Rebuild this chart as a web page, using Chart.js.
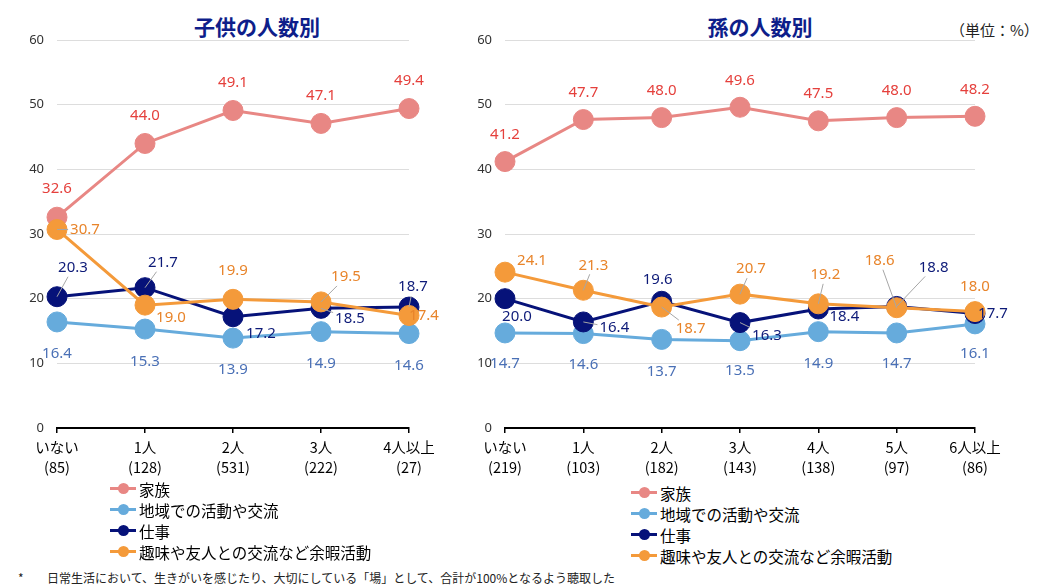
<!DOCTYPE html>
<html lang="ja">
<head>
<meta charset="utf-8">
<title>子供・孫の人数別</title>
<script src="https://cdn.jsdelivr.net/npm/chart.js@4.4.1/dist/chart.umd.min.js"></script>
<style>
  body { margin: 0; background: #fff; }
  #page {
    position: relative; width: 1040px; height: 588px; overflow: hidden;
    font-family: "Noto Sans CJK JP", sans-serif; color: #000;
  }
  .title {
    position: absolute; top: 14px; transform: translateX(-50%);
    font-size: 21px; font-weight: 700; color: #0E1E8A; line-height: 1.2; white-space: nowrap;
  }
  .unit { position: absolute; left: 950px; top: 19px; font-size: 15px; color: #222; }
  .box { position: absolute; top: 0; }
  .legend { position: absolute; }
  .legend .item { display: flex; align-items: center; height: 21px; font-size: 15.5px; white-space: nowrap; }
  .legend .mark { position: relative; width: 26px; height: 3px; margin-right: 3px; }
  .legend .dot { position: absolute; left: 8px; top: -4px; width: 11px; height: 11px; border-radius: 50%; }
  .note { position: absolute; top: 569px; font-size: 12px; color: #222; white-space: nowrap; }
</style>
</head>
<body>
<div id="page">
  <div class="title" style="left:257px">子供の人数別</div>
  <div class="title" style="left:760px">孫の人数別</div>
  <div class="unit">（単位：%）</div>

  <div class="box" style="left:0px"><canvas id="childChart" width="520" height="480"></canvas></div>
  <div class="box" style="left:450px"><canvas id="grandChart" width="590" height="480"></canvas></div>

  <div class="legend" id="childLegend" style="left:110px; top:478px"></div>
  <div class="legend" id="grandLegend" style="left:631px; top:482px"></div>

  <div class="note" style="left:18px">*</div>
  <div class="note" style="left:47px">日常生活において、生きがいを感じたり、大切にしている「場」として、合計が100%となるよう聴取した</div>
</div>

<script>
// series
const seriesNames = ["家族", "地域での活動や交流", "仕事", "趣味や友人との交流など余暇活動"];
const lineColors = ["#E88784", "#66ABDC", "#061279", "#F49A3A"];
const textColors = ["#E5403C", "#4A70B6", "#0D1A78", "#E8842A"];

// 子供の人数別
const childLabels = [["いない", "(85)"], ["1人", "(128)"], ["2人", "(531)"], ["3人", "(222)"], ["4人以上", "(27)"]];
const childFamily = [32.6, 44.0, 49.1, 47.1, 49.4];
const childLocal = [16.4, 15.3, 13.9, 14.9, 14.6];
const childWork = [20.3, 21.7, 17.2, 18.5, 18.7];
const childHobby = [30.7, 19.0, 19.9, 19.5, 17.4];

// 孫の人数別
const grandLabels = [["いない", "(219)"], ["1人", "(103)"], ["2人", "(182)"], ["3人", "(143)"], ["4人", "(138)"], ["5人", "(97)"], ["6人以上", "(86)"]];
const grandFamily = [41.2, 47.7, 48.0, 49.6, 47.5, 48.0, 48.2];
const grandLocal = [14.7, 14.6, 13.7, 13.5, 14.9, 14.7, 16.1];
const grandWork = [20.0, 16.4, 19.6, 16.3, 18.4, 18.8, 17.7];
const grandHobby = [24.1, 21.3, 18.7, 20.7, 19.2, 18.6, 18.0];

const yTicks = { min: 0, max: 60, step: 10 };

// label placement (px from the point) and which labels get a leader line
const childOffsets = [
  [[0, -28], [0, -28], [0, -28], [0, -28], [0, -28]],
  [[0, 32], [0, 33], [0, 32], [0, 32], [0, 32]],
  [[16, -29], [18, -25], [28, 17], [29, 10], [4, -20]],
  [[28, 0], [26, 13], [0, -29], [25, -25], [15, 0]]
];
const childLeaders = [
  [0, 0, 0, 0, 0],
  [0, 0, 0, 0, 0],
  [1, 1, 0, 1, 1],
  [1, 0, 0, 1, 0]
];
const grandOffsets = [
  [[0, -27], [0, -27], [0, -27], [0, -27], [0, -27], [0, -27], [0, -27]],
  [[0, 31], [0, 31], [0, 32], [0, 30], [0, 32], [0, 31], [0, 30]],
  [[12, 18], [31, 6], [-4, -22], [27, 13], [26, 8], [37, -39], [18, 0]],
  [[27, -11], [10, -25], [29, 22], [11, -25], [7, -29], [-17, -47], [0, -25]]
];
const grandLeaders = [
  [0, 0, 0, 0, 0, 0, 0],
  [0, 0, 0, 0, 0, 0, 0],
  [0, 1, 0, 1, 0, 1, 0],
  [0, 1, 1, 1, 1, 1, 0]
];

const numFont = "15px 'Noto Sans', 'Noto Sans CJK JP', sans-serif";

const valueLabels = {
  id: "valueLabels",
  afterDatasetsDraw(chart, args, opts) {
    const ctx = chart.ctx;
    ctx.save();
    ctx.font = numFont;
    ctx.textAlign = "center";
    ctx.textBaseline = "middle";
    const items = [];
    chart.data.datasets.forEach((ds, i) => {
      chart.getDatasetMeta(i).data.forEach((pt, j) => {
        const [dx, dy] = opts.offsets[i][j];
        items.push({ x: pt.x, y: pt.y, dx, dy, text: ds.data[j].toFixed(1), color: textColors[i], leader: opts.leaders[i][j] });
      });
    });
    // leader lines first, text on top
    ctx.strokeStyle = "#A6A6A6";
    ctx.lineWidth = 1;
    items.filter(it => it.leader).forEach(it => {
      const w = ctx.measureText(it.text).width / 2 + 2, h = 9;
      const t = Math.max(Math.abs(it.dx) > w ? 1 - w / Math.abs(it.dx) : 0,
                         Math.abs(it.dy) > h ? 1 - h / Math.abs(it.dy) : 0);
      ctx.beginPath();
      ctx.moveTo(it.x, it.y);
      ctx.lineTo(it.x + it.dx * t, it.y + it.dy * t);
      ctx.stroke();
    });
    items.forEach(it => {
      ctx.fillStyle = it.color;
      ctx.fillText(it.text, it.x + it.dx, it.y + it.dy);
    });
    ctx.restore();
  }
};

function makeDatasets(values) {
  return values.map((data, i) => ({
    label: seriesNames[i],
    data: data,
    borderColor: lineColors[i],
    backgroundColor: lineColors[i],
    pointBackgroundColor: lineColors[i],
    pointBorderColor: lineColors[i],
    borderWidth: 3,
    pointRadius: 10,
    pointHoverRadius: 10,
    pointBorderWidth: 1,
    order: values.length - i
  }));
}

function makeChart(id, labels, values, yWidth, padRight, offsets, leaders) {
  const ctx = document.getElementById(id);
  return new Chart(ctx, {
    type: "line",
    data: { labels: labels, datasets: makeDatasets(values) },
    options: {
      responsive: false,
      animation: false,
      layout: { padding: { top: 40, right: padRight, left: 0, bottom: 0 } },
      plugins: {
        legend: { display: false },
        tooltip: { enabled: false },
        valueLabels: { offsets: offsets, leaders: leaders }
      },
      scales: {
        x: {
          offset: false,
          grid: { display: true, drawOnChartArea: false, drawTicks: true, tickLength: 5, color: "#000", lineWidth: 1.5 },
          border: { display: true, color: "#000", width: 2 },
          ticks: {
            color: "#000", padding: 4, maxRotation: 0, autoSkip: false,
            font: { family: "'Noto Sans CJK JP', sans-serif", size: 14.5, lineHeight: 1.38 }
          },
          afterFit: s => { s.height = 52; }
        },
        y: {
          min: yTicks.min,
          max: yTicks.max,
          grid: { color: c => (c.tick && c.tick.value === 0 ? "rgba(0,0,0,0)" : "#DDDDDD"), drawTicks: false },
          border: { display: false },
          ticks: {
            stepSize: yTicks.step, color: "#333", padding: 13,
            font: { family: "'Noto Sans', sans-serif", size: 13 }
          },
          afterFit: s => { s.width = yWidth; }
        }
      }
    },
    plugins: [valueLabels]
  });
}

makeChart("childChart", childLabels, [childFamily, childLocal, childWork, childHobby], 57, 111, childOffsets, childLeaders);
makeChart("grandChart", grandLabels, [grandFamily, grandLocal, grandWork, grandHobby], 55, 65, grandOffsets, grandLeaders);

function buildLegend(id) {
  const box = document.getElementById(id);
  seriesNames.forEach((name, i) => {
    const row = document.createElement("div");
    row.className = "item";
    row.innerHTML = '<span class="mark" style="background:' + lineColors[i] + '"><span class="dot" style="background:' +
      lineColors[i] + '"></span></span><span>' + name + "</span>";
    box.appendChild(row);
  });
}
buildLegend("childLegend");
buildLegend("grandLegend");
</script>
</body>
</html>
